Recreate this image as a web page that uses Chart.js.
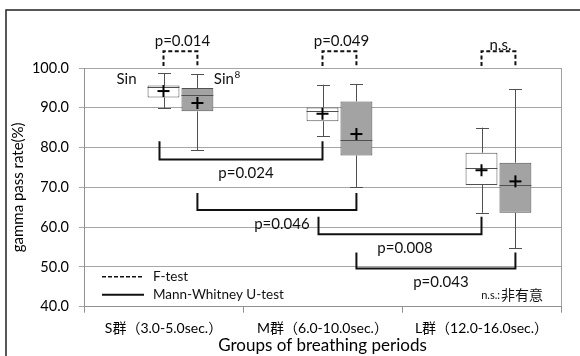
<!DOCTYPE html>
<html>
<head>
<meta charset="utf-8">
<script src="https://cdn.jsdelivr.net/npm/chart.js@4"></script>
<style>html,body{margin:0;padding:0;background:#fff}</style>
</head>
<body>
<canvas id="chart" width="580" height="356"></canvas>
<script>
// categories
const groups = ['S群（3.0-5.0sec.）', 'M群（6.0-10.0sec.）', 'L群（12.0-16.0sec.）'];

// Sin (white boxes)
const sinMin = [89.9, 82.9, 63.6];
const sinQ1 = [92.6, 86.6, 70.6];
const sinMedian = [95.1, 89.2, 74.8];
const sinQ3 = [95.6, 90.1, 78.7];
const sinMax = [98.7, 95.8, 85.0];
const sinMean = [94.2, 88.5, 74.3];

// Sin^8 (gray boxes)
const sin8Min = [79.4, 70.1, 54.7];
const sin8Q1 = [89.1, 78.0, 63.6];
const sin8Median = [93.3, 81.8, 70.6];
const sin8Q3 = [95.0, 91.6, 76.2];
const sin8Max = [98.4, 96.0, 94.6];
const sin8Mean = [91.2, 83.4, 71.5];

// significance tests
const fTestLabels = ['p=0.014', 'p=0.049', 'n.s.'];
const mwLabels = ['p=0.024', 'p=0.046', 'p=0.008', 'p=0.043'];
const mwSeries = [0, 1, 0, 1];      // 0 = Sin, 1 = Sin8
const mwFromGroup = [0, 0, 1, 1];
const mwToGroup = [1, 1, 2, 2];

const yTickMin = 40, yTickMax = 100, yTickStep = 10;

const latin = 'Lato, "Noto Sans CJK JP", sans-serif';
const boxLine = '#505050';

const series = [
  { min: sinMin, q1: sinQ1, med: sinMedian, q3: sinQ3, max: sinMax, mean: sinMean },
  { min: sin8Min, q1: sin8Q1, med: sin8Median, q3: sin8Q3, max: sin8Max, mean: sin8Mean },
];

function seg(ctx, x1, y1, x2, y2) {
  ctx.beginPath();
  ctx.moveTo(x1, y1);
  ctx.lineTo(x2, y2);
  ctx.stroke();
}

const framePlugin = {
  id: 'frame',
  beforeDraw(chart) {
    const ctx = chart.ctx;
    ctx.save();
    ctx.fillStyle = '#fff';
    ctx.fillRect(0, 0, chart.width, chart.height);
    ctx.strokeStyle = '#222';
    ctx.lineWidth = 1.5;
    ctx.beginPath();
    ctx.moveTo(6, chart.height);
    ctx.lineTo(6, 10);
    ctx.lineTo(chart.width, 10);
    ctx.stroke();
    ctx.restore();
  },
  beforeDatasetsDraw(chart) {
    // right edge of the plot area
    const { ctx, chartArea: a } = chart;
    ctx.save();
    ctx.strokeStyle = '#a0a0a0';
    ctx.lineWidth = 1;
    seg(ctx, Math.round(a.right) + 0.5, a.top, Math.round(a.right) + 0.5, a.bottom);
    ctx.restore();
  }
};

const boxPlugin = {
  id: 'boxes',
  afterDatasetsDraw(chart) {
    const ctx = chart.ctx, y = chart.scales.y;
    ctx.save();
    series.forEach((st, s) => {
      const meta = chart.getDatasetMeta(s + 1);
      meta.data.forEach((bar, i) => {
        const x = Math.round(bar.x) + 0.5;
        const w = bar.width;
        ctx.strokeStyle = boxLine;
        ctx.lineWidth = 1;
        const pMax = y.getPixelForValue(st.max[i]);
        const pMin = y.getPixelForValue(st.min[i]);
        seg(ctx, x, y.getPixelForValue(st.q3[i]), x, pMax);
        seg(ctx, x, y.getPixelForValue(st.q1[i]), x, pMin);
        seg(ctx, x - 6.5, Math.round(pMax) + 0.5, x + 6.5, Math.round(pMax) + 0.5);
        seg(ctx, x - 6.5, Math.round(pMin) + 0.5, x + 6.5, Math.round(pMin) + 0.5);
        const pMed = Math.round(y.getPixelForValue(st.med[i])) + 0.5;
        seg(ctx, bar.x - w / 2, pMed, bar.x + w / 2, pMed);
        // mean marker
        const pMean = y.getPixelForValue(st.mean[i]);
        ctx.strokeStyle = '#000';
        ctx.lineWidth = 2;
        seg(ctx, bar.x - 6, pMean, bar.x + 6, pMean);
        seg(ctx, bar.x, pMean - 6, bar.x, pMean + 6);
      });
    });
    ctx.restore();
  }
};

const annotationPlugin = {
  id: 'tests',
  afterDraw(chart) {
    const { ctx, scales: { y }, chartArea: a } = chart;
    const cx = (s, g) => chart.getDatasetMeta(s + 1).data[g].x;
    ctx.save();
    ctx.fillStyle = '#111';
    ctx.strokeStyle = '#111';

    // Mann-Whitney brackets (solid, below the boxes)
    const mwTop = [81.6, 68.6, 62.6, 53.6];
    const mwBottom = [77.0, 64.3, 58.2, 49.6];
    ctx.lineWidth = 2;
    ctx.font = '15px ' + latin;
    ctx.textAlign = 'center';
    ctx.textBaseline = 'middle';
    mwLabels.forEach((lab, k) => {
      const x1 = cx(mwSeries[k], mwFromGroup[k]) - (mwSeries[k] === 0 ? 4 : 0);
      const x2 = cx(mwSeries[k], mwToGroup[k]);
      const t = y.getPixelForValue(mwTop[k]);
      const b = y.getPixelForValue(mwBottom[k]);
      ctx.beginPath();
      ctx.moveTo(x1, t);
      ctx.lineTo(x1, b);
      ctx.lineTo(x2, b);
      ctx.lineTo(x2, t);
      ctx.stroke();
      ctx.fillText(lab, (x1 + x2) / 2 + 5, b + 14);
    });

    // F-test brackets (dashed, above the plot)
    const t = y.getPixelForValue(104.2);
    const b = y.getPixelForValue(100.5);
    fTestLabels.forEach((lab, g) => {
      const x1 = cx(0, g), x2 = cx(1, g);
      ctx.setLineDash([4, 2.5]);
      ctx.beginPath();
      ctx.moveTo(x1, b);
      ctx.lineTo(x1, t);
      ctx.lineTo(x2, t);
      ctx.lineTo(x2, b);
      ctx.stroke();
      ctx.setLineDash([]);
      ctx.fillText(lab, (x1 + x2) / 2 + 2, lab === 'n.s.' ? t - 6 : t - 10);
    });

    // series names next to the first group
    const sy = y.getPixelForValue(97.2);
    const w0 = chart.getDatasetMeta(1).data[0];
    const w1 = chart.getDatasetMeta(2).data[0];
    ctx.textAlign = 'right';
    ctx.fillText('Sin', w0.x - w0.width / 2 - 11, sy);
    ctx.textAlign = 'left';
    const sx = w1.x + w1.width / 2 + 0.5;
    ctx.fillText('Sin', sx, sy);
    const sw = ctx.measureText('Sin').width;
    ctx.font = '10px ' + latin;
    ctx.fillText('8', sx + sw + 0.5, sy - 4);

    // legend for the bracket styles
    const lx = a.left + 18, ly1 = a.bottom - 30, ly2 = a.bottom - 12;
    ctx.lineWidth = 1.5;
    ctx.setLineDash([4, 2]);
    seg(ctx, lx, ly1, lx + 42, ly1);
    ctx.setLineDash([]);
    ctx.lineWidth = 2;
    seg(ctx, lx, ly2, lx + 42, ly2);
    ctx.font = '13.5px ' + latin;
    ctx.fillText('F-test', lx + 51, ly1);
    ctx.fillText('Mann-Whitney U-test', lx + 51, ly2);

    // note on n.s.
    ctx.textAlign = 'right';
    ctx.font = '14px "Noto Sans CJK JP", sans-serif';
    const note = '非有意';
    const nx = a.right - 18;
    ctx.fillText(note, nx, ly2);
    const nw = ctx.measureText(note).width;
    ctx.font = '11px ' + latin;
    ctx.fillText('n.s.:', nx - nw - 1, ly2 + 1);
    ctx.restore();
  }
};

new Chart(document.getElementById('chart'), {
  type: 'bar',
  data: {
    labels: groups,
    datasets: [
      { label: '', data: groups.map(() => null) },
      {
        label: 'Sin',
        data: sinQ1.map((q, i) => [q, sinQ3[i]]),
        backgroundColor: '#ffffff',
        borderColor: boxLine,
        borderWidth: 1,
        borderSkipped: false,
      },
      {
        label: 'Sin8',
        data: sin8Q1.map((q, i) => [q, sin8Q3[i]]),
        backgroundColor: '#a3a3a3',
        borderColor: boxLine,
        borderWidth: 1,
        borderSkipped: false,
      },
    ],
  },
  options: {
    responsive: false,
    animation: false,
    events: [],
    categoryPercentage: 0.64,
    barPercentage: 0.94,
    layout: { padding: { top: 68, right: 19, left: 0, bottom: 0 } },
    plugins: { legend: { display: false }, tooltip: { enabled: false } },
    scales: {
      x: {
        grid: { offset: true, drawOnChartArea: false, tickLength: 6, color: '#909090' },
        border: { color: '#909090' },
        ticks: { color: '#000', font: { family: latin, size: 14 }, padding: 7 },
        title: {
          display: true, text: 'Groups of breathing periods', color: '#000',
          font: { family: latin, size: 17 }, padding: { top: 0, bottom: 0 },
        },
        afterFit: s => { s.height = 49.3; },
      },
      y: {
        min: yTickMin,
        max: yTickMax,
        ticks: {
          stepSize: yTickStep, color: '#000', padding: 10,
          font: { family: latin, size: 14.5 },
          callback: v => v.toFixed(1),
        },
        grid: { color: '#a6a6a6', tickLength: 5 },
        border: { color: '#909090' },
        title: {
          display: true, text: 'gamma pass rate(%)', color: '#000',
          font: { family: latin, size: 15 }, padding: { top: 9, bottom: 0 },
        },
        afterFit: s => { s.width = 84; },
      },
    },
  },
  plugins: [framePlugin, boxPlugin, annotationPlugin],
});
</script>
</body>
</html>
